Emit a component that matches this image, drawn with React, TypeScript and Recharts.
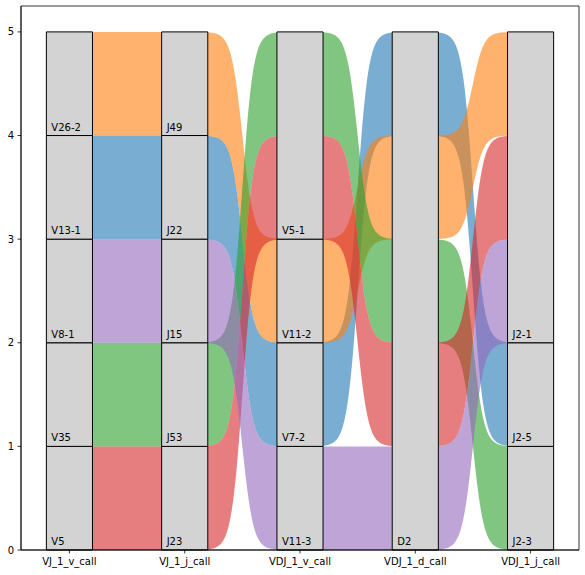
import React from 'react';
import { ComposedChart, Area, XAxis, YAxis, ReferenceArea } from 'recharts';

const columns = ['VJ_1_v_call', 'VJ_1_j_call', 'VDJ_1_v_call', 'VDJ_1_d_call', 'VDJ_1_j_call'];

// segments per column, listed bottom to top
const segLabels = [
  ['V5', 'V35', 'V8-1', 'V13-1', 'V26-2'],
  ['J23', 'J53', 'J15', 'J22', 'J49'],
  ['V11-3', 'V7-2', 'V11-2', 'V5-1'],
  ['D2'],
  ['J2-3', 'J2-5', 'J2-1'],
];
const segSizes = [
  [1, 1, 1, 1, 1],
  [1, 1, 1, 1, 1],
  [1, 1, 1, 2],
  [5],
  [1, 1, 3],
];

// flows (one clonotype each), in drawing order
const flowColors = ['#1f77b4', '#ff7f0e', '#2ca02c', '#d62728', '#9467bd'];
const flowWeights = [1, 1, 1, 1, 1];
// bottom position of each flow inside each column's stack
const flowBottoms = [
  [3, 3, 1, 4, 1], // blue
  [4, 4, 2, 3, 4], // orange
  [1, 1, 4, 2, 0], // green
  [0, 0, 3, 1, 3], // red
  [2, 2, 0, 0, 2], // purple
];

const BAR = 0.4;
const STEPS = 60;
const STEEP = 12.5;

// ribbon table built from the flows (sigmoid link shape across each gap)
const ribbonRows: any[] = [];
for (let g = 0; g < columns.length - 1; g++) {
  for (let n = 0; n <= STEPS; n++) {
    const t = n / STEPS;
    const s = 1 / (1 + Math.exp(-STEEP * (t - 0.5)));
    const row: any = { x: g + BAR / 2 + t * (1 - BAR) };
    flowBottoms.forEach((b, f) => {
      const lo = b[g] + (b[g + 1] - b[g]) * s;
      row['f' + f] = [lo, lo + flowWeights[f]];
    });
    ribbonRows.push(row);
  }
  if (g < columns.length - 2) {
    const br: any = { x: g + 1 };
    flowBottoms.forEach((_, f) => (br['f' + f] = null));
    ribbonRows.push(br);
  }
}

const segments: { col: number; y0: number; y1: number; label: string }[] = [];
segLabels.forEach((labels, c) => {
  let acc = 0;
  labels.forEach((lab, i) => {
    segments.push({ col: c, y0: acc, y1: acc + segSizes[c][i], label: lab });
    acc += segSizes[c][i];
  });
});

const FONT = 'DejaVu Sans';

export default function App() {
  return (
    <div style={{ position: 'absolute', left: 0, top: 0, width: 585, height: 575, background: '#fff' }}>
      <ComposedChart width={585} height={575} data={ribbonRows} margin={{ top: 6, right: 6, left: 0, bottom: 0 }}>
        <XAxis
          dataKey="x"
          type="number"
          domain={[-0.42, 4.42]}
          allowDataOverflow
          ticks={[0, 1, 2, 3, 4]}
          interval={0}
          tickFormatter={(v: number) => columns[v]}
          height={25}
          tickSize={3.5}
          tickMargin={4.5}
          axisLine={{ stroke: '#000', strokeWidth: 0.8 }}
          tickLine={{ stroke: '#000', strokeWidth: 0.8 }}
          tick={{ fill: '#000', fontSize: 10, fontFamily: FONT }}
        />
        <YAxis
          type="number"
          domain={[0, 5.25]}
          allowDataOverflow
          ticks={[0, 1, 2, 3, 4, 5]}
          interval={0}
          width={21}
          tickSize={3.5}
          tickMargin={3.5}
          axisLine={{ stroke: '#000', strokeWidth: 0.8 }}
          tickLine={{ stroke: '#000', strokeWidth: 0.8 }}
          tick={{ fill: '#000', fontSize: 10, fontFamily: FONT }}
        />
        {flowColors.map((c, f) => (
          <Area
            key={'f' + f}
            dataKey={'f' + f}
            type="linear"
            stroke="none"
            fill={c}
            fillOpacity={0.6}
            dot={false}
            activeDot={false}
            connectNulls={false}
            isAnimationActive={false}
          />
        ))}
        {segments.map((s, i) => (
          <ReferenceArea
            key={'s' + i}
            x1={s.col - BAR / 2}
            x2={s.col + BAR / 2}
            y1={s.y0}
            y2={s.y1}
            fill="#d3d3d3"
            fillOpacity={1}
            stroke="#000"
            strokeWidth={1}
            label={{ value: s.label, position: 'insideBottomLeft', offset: 5, fill: '#000', fontSize: 10, fontFamily: FONT }}
          />
        ))}
        <ReferenceArea x1={-0.42} x2={4.42} y1={0} y2={5.25} fill="none" fillOpacity={0} stroke="#000" strokeWidth={0.8} />
      </ComposedChart>
    </div>
  );
}
